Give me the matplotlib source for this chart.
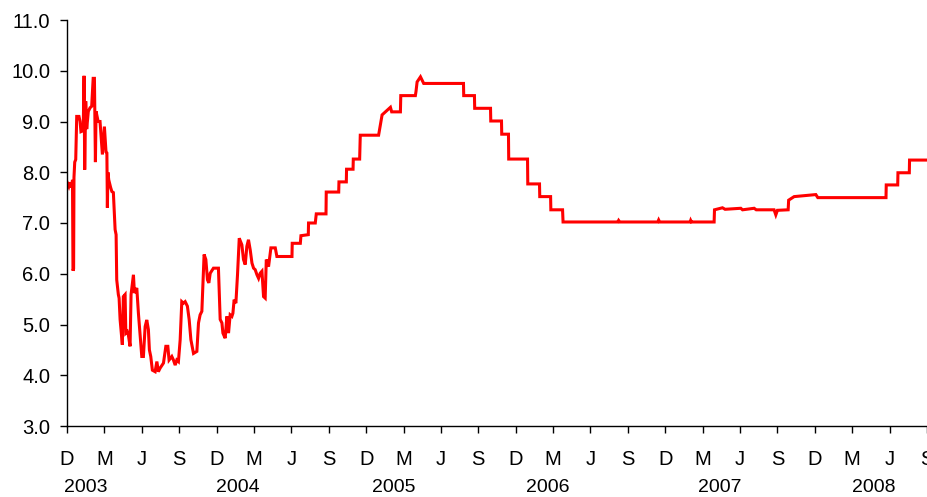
import numpy as np
import matplotlib
matplotlib.use("Agg")
import matplotlib.pyplot as plt
import matplotlib.transforms as mtransforms

plt.rcParams['font.family'] = ['Liberation Sans', 'DejaVu Sans']

# months since the first tick (Dec 2002) and the rate (%)
months = [
    0, 0.15, 0.25, 0.38, 0.44, 0.48, 0.53, 0.56, 0.62, 0.7, 0.78, 0.96, 1.05, 1.12, 1.3,
    1.37, 1.42, 1.5, 1.58, 1.71, 1.85, 1.98, 2.1, 2.2, 2.28, 2.33, 2.5, 2.65, 2.84, 3.0,
    3.13, 3.2, 3.24, 3.28, 3.35, 3.5, 3.6, 3.72, 3.86, 3.94, 3.99, 4.12, 4.18, 4.26, 4.44,
    4.52, 4.66, 4.72, 4.84, 4.92, 5.06, 5.14, 5.33, 5.41, 5.52, 5.6, 5.73, 5.81, 5.92, 6.0,
    6.13, 6.27, 6.4, 6.53, 6.61, 6.72, 6.85, 7.07, 7.21, 7.33, 7.47, 7.74, 7.93, 8.09, 8.19,
    8.41, 8.54, 8.68, 8.81, 8.94, 9.08, 9.21, 9.34, 9.48, 9.66, 9.8, 9.94, 10.15, 10.42, 10.55,
    10.68, 10.82, 10.9, 11.0, 11.14, 11.27, 11.38, 11.49, 11.75, 12.15, 12.29, 12.43, 12.51, 12.69, 12.83,
    12.96, 13.09, 13.23, 13.31, 13.41, 13.55, 13.68, 13.82, 14.03, 14.16, 14.3, 14.43, 14.56, 14.7, 14.84,
    14.97, 15.1, 15.24, 15.37, 15.5, 15.64, 15.77, 15.9, 15.99, 16.17, 16.36, 16.71, 16.84, 18.05, 18.07,
    18.72, 18.77, 19.36, 19.38, 19.92, 20.0, 20.78, 20.8, 21.8, 21.82, 22.41, 22.43, 22.95, 22.97, 23.48,
    23.53, 24.9, 25.0, 25.28, 25.95, 26.05, 26.75, 26.78, 27.95, 28.0, 28.09, 28.36, 28.62, 31.81, 31.83,
    32.69, 32.71, 33.98, 34.0, 34.86, 34.88, 35.42, 35.44, 36.95, 36.97, 37.91, 37.93, 38.8, 38.82, 39.76,
    39.8, 44.2, 44.26, 44.35, 47.4, 47.47, 47.55, 50.0, 50.04, 50.1, 51.92, 51.95, 52.59, 52.8, 54.06,
    54.2, 55.13, 55.3, 56.73, 56.87, 57.0, 57.86, 57.9, 58.34, 60.08, 60.24, 65.71, 65.73, 66.65, 66.67,
    67.58, 67.6, 69.1,
]
rate = [
    7.81, 7.72, 7.8, 7.7, 7.85, 6.06, 6.1, 7.9, 8.2, 8.25, 9.1, 9.1, 9.0, 8.8, 8.82,
    9.9, 8.05, 9.4, 8.85, 9.2, 9.27, 9.3, 9.85, 9.85, 8.2, 9.2, 9.0, 9.0, 8.35, 8.9,
    8.4, 8.38, 7.3, 8.0, 7.85, 7.7, 7.62, 7.6, 6.87, 6.77, 5.88, 5.59, 5.52, 5.1, 4.6,
    5.55, 5.59, 4.83, 4.86, 4.8, 4.57, 5.59, 5.98, 5.62, 5.68, 5.72, 5.22, 4.96, 4.63, 4.37,
    4.37, 4.96, 5.09, 4.9, 4.5, 4.37, 4.1, 4.07, 4.27, 4.07, 4.14, 4.24, 4.57, 4.57, 4.3,
    4.37, 4.3, 4.2, 4.3, 4.27, 4.7, 5.45, 5.42, 5.45, 5.36, 5.1, 4.7, 4.43, 4.47, 5.03,
    5.19, 5.26, 5.75, 6.38, 6.28, 5.88, 5.82, 6.01, 6.11, 6.11, 5.1, 5.03, 4.83, 4.73, 5.16,
    4.83, 5.19, 5.16, 5.22, 5.49, 5.42, 5.98, 6.7, 6.57, 6.28, 6.18, 6.54, 6.67, 6.47, 6.21,
    6.11, 6.08, 5.98, 5.91, 6.01, 6.05, 5.55, 5.52, 6.28, 6.14, 6.51, 6.51, 6.34, 6.34, 6.6,
    6.6, 6.75, 6.77, 7.0, 7.0, 7.18, 7.18, 7.61, 7.61, 7.81, 7.81, 8.06, 8.06, 8.26, 8.26,
    8.73, 8.73, 8.73, 9.13, 9.28, 9.19, 9.19, 9.51, 9.51, 9.59, 9.78, 9.88, 9.75, 9.75, 9.51,
    9.51, 9.26, 9.26, 9.01, 9.01, 8.75, 8.75, 8.26, 8.26, 7.77, 7.77, 7.52, 7.52, 7.26, 7.26,
    7.02, 7.02, 7.05, 7.02, 7.02, 7.06, 7.02, 7.02, 7.05, 7.02, 7.02, 7.26, 7.3, 7.27, 7.29,
    7.26, 7.29, 7.26, 7.26, 7.16, 7.25, 7.26, 7.45, 7.52, 7.56, 7.5, 7.5, 7.75, 7.75, 7.99,
    7.99, 8.24, 8.24,
]

month_labels = ['D', 'M', 'J', 'S']
years = ['2003', '2004', '2005', '2006', '2007', '2008']
year_pos = [1.5, 13.7, 26.2, 38.6, 52.4, 64.7]

fig = plt.figure(figsize=(9.27, 4.97), dpi=100)
ax = fig.add_axes([67 / 927, 71 / 497, 860 / 927, 406 / 497])

ax.plot(months, rate, color='#ff0000', lw=2.2, solid_joinstyle='miter')

ax.set_xlim(0, 69)
ax.set_ylim(3, 11)
ax.set_yticks(np.arange(3, 11.5, 1.0))
ax.set_yticklabels(['%.1f' % v for v in np.arange(3, 11.5, 1.0)])
ticks = np.arange(0, 70, 3)
ax.set_xticks(ticks)
ax.set_xticklabels([month_labels[i % 4] for i in range(len(ticks))])

for s in ['top', 'right']:
    ax.spines[s].set_visible(False)
for s in ['left', 'bottom']:
    ax.spines[s].set_linewidth(1.0)
    ax.spines[s].set_color('black')

ax.tick_params(axis='both', direction='out', length=5, width=1, labelsize=14.5, colors='black')
ax.tick_params(axis='y', pad=7)
ax.tick_params(axis='x', pad=12)

# year labels under the month letters
trans = mtransforms.blended_transform_factory(ax.transData, ax.transAxes)
for yr, xp in zip(years, year_pos):
    ax.text(xp, -0.1626, yr, transform=trans, ha='center', va='baseline', fontsize=14)

fig.savefig('out.png', dpi=100)
